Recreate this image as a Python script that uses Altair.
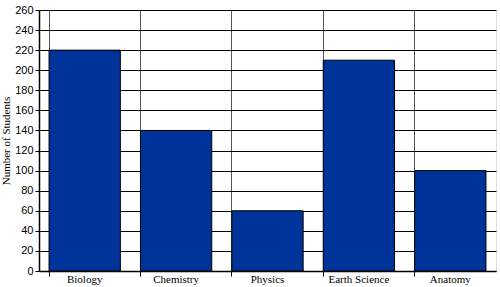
import altair as alt
import pandas as pd

subjects = ["Biology", "Chemistry", "Physics", "Earth Science", "Anatomy"]
students = [220, 140, 60, 210, 100]
y_ticks = list(range(0, 261, 20))

df = pd.DataFrame({"Subject": subjects, "Students": students})

chart = alt.Chart(df).mark_bar(
    color="#003399", stroke="#000000", strokeWidth=1
).encode(
    x=alt.X("Subject:N", sort=subjects, title=None,
            scale=alt.Scale(paddingInner=0.22, paddingOuter=0.11),
            axis=alt.Axis(labelAngle=0, labelFont="Liberation Serif", labelFontSize=11,
                          labelColor="#000000", labelPadding=-3,
                          bandPosition=0, ticks=True, tickSize=5, tickColor="#000000",
                          grid=True, gridColor="#555555", gridWidth=1,
                          domainColor="#000000", domainWidth=1.5)),
    y=alt.Y("Students:Q", title="Number of Students",
            scale=alt.Scale(domain=[0, 260], nice=False),
            axis=alt.Axis(values=y_ticks, labelFont="Liberation Sans", labelFontSize=11,
                          labelColor="#000000", tickSize=4, tickColor="#000000",
                          labelPadding=2,
                          grid=True, gridColor="#000000", gridWidth=1,
                          domainColor="#000000", domainWidth=1.5,
                          titleFont="Liberation Serif", titleFontSize=11,
                          titleFontWeight="normal", titleColor="#000000",
                          titleX=-28, titleY=130.5, titleAngle=-90)),
).properties(
    width=457, height=261,
    autosize=alt.AutoSizeParams(type="none"),
    padding={"left": 39, "top": 10, "right": 4, "bottom": 16},
).configure_view(
    stroke="#000000", strokeWidth=1
).configure(background="#ffffff")

chart.save("out.html", embed_options={"renderer": "svg", "actions": False})
